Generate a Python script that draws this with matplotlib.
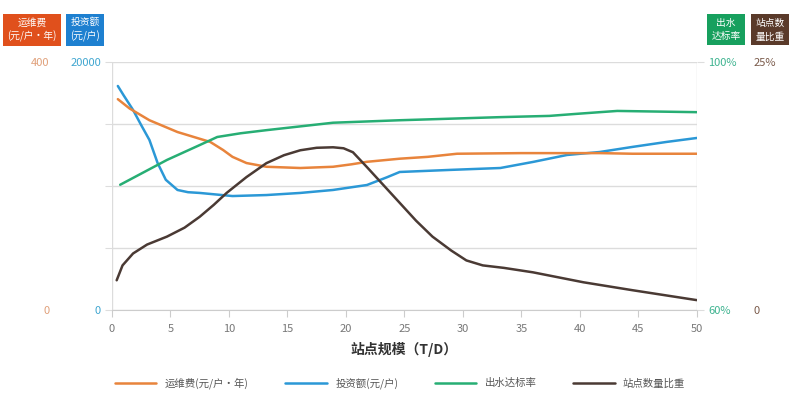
import matplotlib
matplotlib.use("Agg")
import matplotlib.pyplot as plt
import numpy as np

plt.rcParams['font.family'] = ['Noto Sans CJK SC', 'DejaVu Sans']

# ---- data ----
x_cost = [0.5, 1.5, 3.2, 5.6, 8.4, 9.5, 10.3, 11.5, 13.2, 16.1, 18.9, 20.5, 21.8, 24.6, 27, 29.5, 35, 41.7, 44.5, 50]
cost = [340, 325, 306, 287, 271, 258, 247, 237, 231, 229, 231, 235, 239, 244, 247, 252, 253, 253, 252, 252]

x_inv = [0.5, 1.0, 1.8, 2.5, 3.2, 3.9, 4.6, 5.6, 6.5, 7.5, 10.3, 13.2, 16.1, 18.9, 21.8, 23.5, 24.6, 29, 33.2, 36, 38.9, 41.7, 44.5, 47.4, 50]
inv = [18060, 17300, 16130, 14900, 13710, 11850, 10500, 9680, 9500, 9440, 9190, 9270, 9440, 9680, 10080, 10700, 11130, 11300, 11450, 11940, 12500, 12740, 13150, 13550, 13870]

x_rate = [0.7, 4.7, 7.5, 9, 11, 13.2, 18.9, 24.6, 33.2, 37.4, 39.5, 41.7, 43.2, 50]
rate = [80.2, 84.2, 86.6, 87.9, 88.5, 89.0, 90.2, 90.6, 91.1, 91.3, 91.6, 91.9, 92.1, 91.9]

x_share = [0.4, 0.9, 1.8, 3.0, 4.7, 6.2, 7.5, 8.7, 9.8, 11.5, 13.2, 14.7, 16.1, 17.5, 18.9, 19.8, 20.6, 21.8, 23.2, 24.6, 26, 27.4, 29, 30.3, 31.7, 33.5, 36, 40.3, 44.5, 50]
share = [3.0, 4.5, 5.7, 6.6, 7.4, 8.3, 9.4, 10.6, 11.8, 13.4, 14.8, 15.6, 16.1, 16.35, 16.4, 16.3, 15.9, 14.4, 12.6, 10.8, 9.0, 7.4, 6.0, 5.0, 4.5, 4.25, 3.8, 2.8, 2.0, 1.0]

x_ticks = list(range(0, 51, 5))
labels = ['运维费(元/户·年)', '投资额(元/户)', '出水达标率', '站点数量比重']

c_cost, c_inv, c_rate, c_share = '#E8843C', '#2B98D6', '#27AE74', '#4A3A34'

fig = plt.figure(figsize=(8, 3.97), dpi=100)
ax = fig.add_axes([0.14, 0.219, 0.731, 0.625])
ax_o = ax.twinx()
ax_g = ax.twinx()
ax_b = ax.twinx()

for a in (ax, ax_o, ax_g, ax_b):
    for s in a.spines.values():
        s.set_visible(False)
    a.set_xlim(0, 50)

ax.set_ylim(0, 20000)
ax_o.set_ylim(0, 400)
ax_g.set_ylim(60, 100)
ax_b.set_ylim(0, 25)

# grid
ax.set_yticks(np.linspace(0, 20000, 5))
ax.set_yticklabels(['0', '', '', '', '20000'])
ax.grid(axis='y', color='#dcdcdc', lw=1)
ax.axvline(0, color='#dcdcdc', lw=1)
ax.axvline(50, color='#dcdcdc', lw=1)
ax.tick_params(axis='y', colors='#dddddd', labelcolor='#3FA6D0', labelsize=8, length=5, pad=3)
ax.spines['bottom'].set_visible(True)
ax.spines['bottom'].set_color('#cccccc')
ax.set_xticks(x_ticks)
ax.tick_params(axis='x', colors='#cccccc', labelcolor='#777777', labelsize=8, length=5, pad=5)

ax_o.yaxis.tick_left()
ax_o.set_yticks([0, 400])
ax_o.tick_params(axis='y', length=0, labelcolor='#E0A07A', labelsize=8, pad=45)

ax_g.set_yticks([60, 100])
ax_g.set_yticklabels(['60%', '100%'])
ax_g.tick_params(axis='y', colors='#dddddd', labelcolor='#3DB38F', labelsize=8, length=5, pad=3)

ax_b.set_yticks([0, 25])
ax_b.set_yticklabels(['0', '25%'])
ax_b.tick_params(axis='y', length=0, labelcolor='#7A5A4A', labelsize=8, pad=41)

kw = dict(lw=1.8, solid_joinstyle='round', solid_capstyle='round')
l1, = ax_o.plot(x_cost, cost, color=c_cost, **kw)
l2, = ax.plot(x_inv, inv, color=c_inv, **kw)
l3, = ax_g.plot(x_rate, rate, color=c_rate, **kw)
l4, = ax_b.plot(x_share, share, color=c_share, **kw)

ax.set_xlabel('站点规模（T/D）', fontsize=10, fontweight='bold', color='#333333', labelpad=6)

fig.legend([l1, l2, l3, l4], labels, loc='center', bbox_to_anchor=(0.5, 0.035), ncol=4,
           frameon=False, fontsize=7.5, handlelength=4, columnspacing=3.5, labelcolor='#555555')

# badges
def badge(xc, txt, col):
    fig.text(xc, 0.925, txt, ha='center', va='center', fontsize=7, color='white',
             linespacing=1.4, bbox=dict(boxstyle='square,pad=0.4', fc=col, ec='none'))

badge(32 / 800, '运维费\n(元/户·年)', '#E0501C')
badge(85 / 800, '投资额\n(元/户)', '#1E80D0')
badge(726 / 800, '出水\n达标率', '#17A05E')
badge(770 / 800, '站点数\n量比重', '#5A3A2A')

fig.savefig('out.png', dpi=100)
